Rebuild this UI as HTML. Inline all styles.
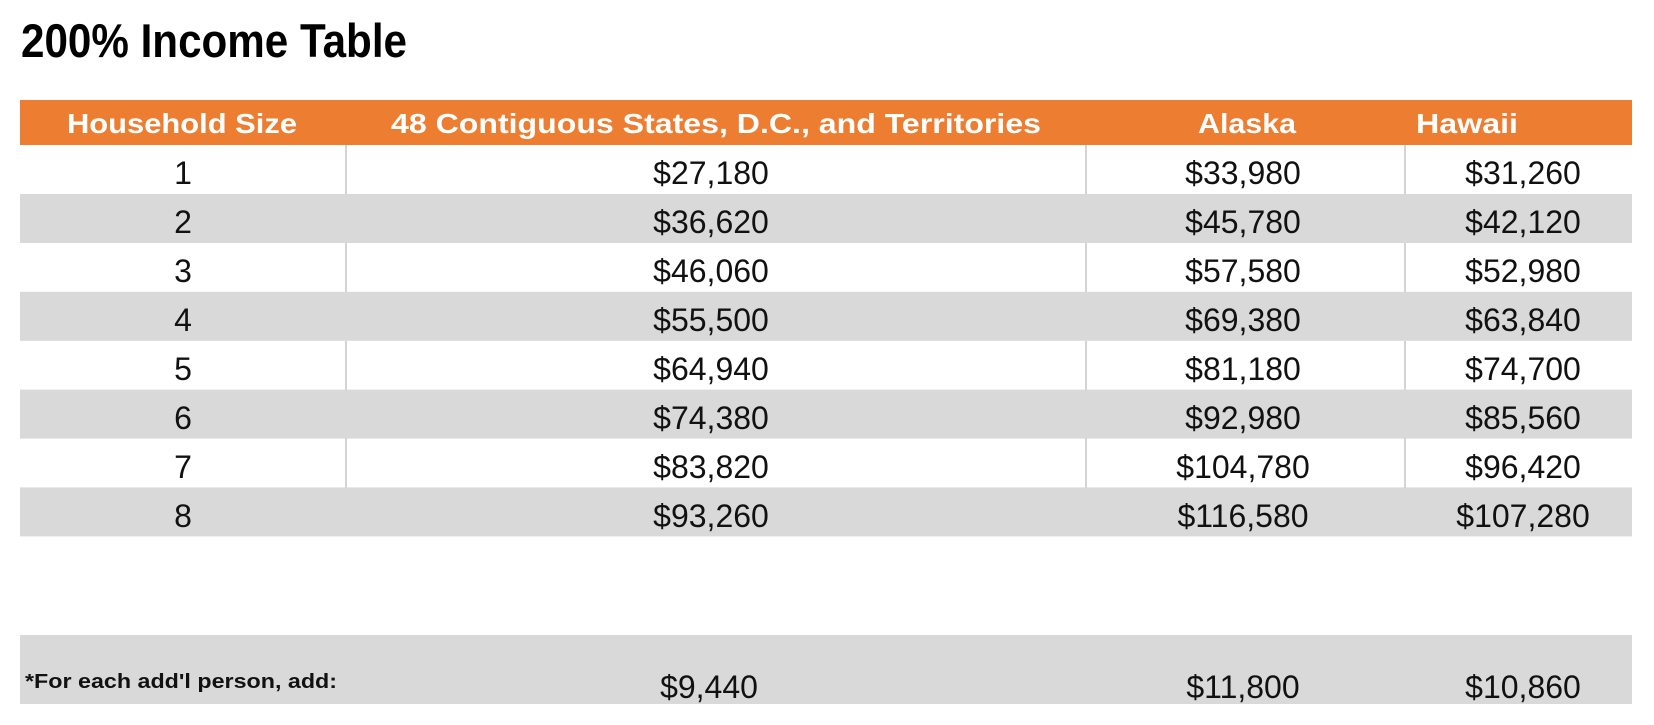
<!DOCTYPE html>
<html><head><meta charset="utf-8"><style>
html,body{margin:0;padding:0;background:#fff;}
svg{display:block;}
text{font-family:"Liberation Sans",Arial,sans-serif;}
</style></head><body>
<svg width="1654" height="725" viewBox="0 0 1654 725" xmlns="http://www.w3.org/2000/svg">
<text x="21" y="57" font-size="47" font-weight="bold" fill="#000" textLength="386" lengthAdjust="spacingAndGlyphs">200% Income Table</text>
<rect x="20" y="100" width="1612" height="45" fill="#ED7D31"/>
<g font-size="28" font-weight="bold" fill="#fff">
<text x="67" y="133" textLength="230" lengthAdjust="spacingAndGlyphs">Household Size</text>
<text x="391" y="133" textLength="650" lengthAdjust="spacingAndGlyphs">48 Contiguous States, D.C., and Territories</text>
<text x="1198" y="133" textLength="98" lengthAdjust="spacingAndGlyphs">Alaska</text>
<text x="1416" y="133" textLength="102" lengthAdjust="spacingAndGlyphs">Hawaii</text>
</g>
<g id="rows">
<rect x="20" y="194" width="1612" height="49" fill="#D9D9D9"/>
<rect x="20" y="291.8" width="1612" height="49" fill="#D9D9D9"/>
<rect x="20" y="389.6" width="1612" height="49" fill="#D9D9D9"/>
<rect x="20" y="487.4" width="1612" height="49" fill="#D9D9D9"/>
<g stroke="#D4D4D4" stroke-width="2">
<line x1="346" y1="145" x2="346" y2="194"/><line x1="1086" y1="145" x2="1086" y2="194"/><line x1="1405" y1="145" x2="1405" y2="194"/>
<line x1="346" y1="243" x2="346" y2="292"/><line x1="1086" y1="243" x2="1086" y2="292"/><line x1="1405" y1="243" x2="1405" y2="292"/>
<line x1="346" y1="341" x2="346" y2="390"/><line x1="1086" y1="341" x2="1086" y2="390"/><line x1="1405" y1="341" x2="1405" y2="390"/>
<line x1="346" y1="438" x2="346" y2="488"/><line x1="1086" y1="438" x2="1086" y2="488"/><line x1="1405" y1="438" x2="1405" y2="488"/>
</g>
</g>
<g font-size="32" fill="#111" text-anchor="middle">
<text x="183" y="184">1</text><text x="711" y="184">$27,180</text><text x="1243" y="184">$33,980</text><text x="1523" y="184">$31,260</text>
<text x="183" y="233">2</text><text x="711" y="233">$36,620</text><text x="1243" y="233">$45,780</text><text x="1523" y="233">$42,120</text>
<text x="183" y="282">3</text><text x="711" y="282">$46,060</text><text x="1243" y="282">$57,580</text><text x="1523" y="282">$52,980</text>
<text x="183" y="331">4</text><text x="711" y="331">$55,500</text><text x="1243" y="331">$69,380</text><text x="1523" y="331">$63,840</text>
<text x="183" y="380">5</text><text x="711" y="380">$64,940</text><text x="1243" y="380">$81,180</text><text x="1523" y="380">$74,700</text>
<text x="183" y="429">6</text><text x="711" y="429">$74,380</text><text x="1243" y="429">$92,980</text><text x="1523" y="429">$85,560</text>
<text x="183" y="478">7</text><text x="711" y="478">$83,820</text><text x="1243" y="478">$104,780</text><text x="1523" y="478">$96,420</text>
<text x="183" y="527">8</text><text x="711" y="527">$93,260</text><text x="1243" y="527">$116,580</text><text x="1523" y="527">$107,280</text>
</g>
<rect x="20" y="635" width="1612" height="69" fill="#D9D9D9"/>
<text x="25" y="688" font-size="20" font-weight="bold" fill="#111" textLength="312" lengthAdjust="spacingAndGlyphs">*For each add'l person, add:</text>
<g font-size="32" fill="#111" text-anchor="middle">
<text x="709" y="698">$9,440</text><text x="1243" y="698">$11,800</text><text x="1523" y="698">$10,860</text>
</g>
</svg>
</body></html>
